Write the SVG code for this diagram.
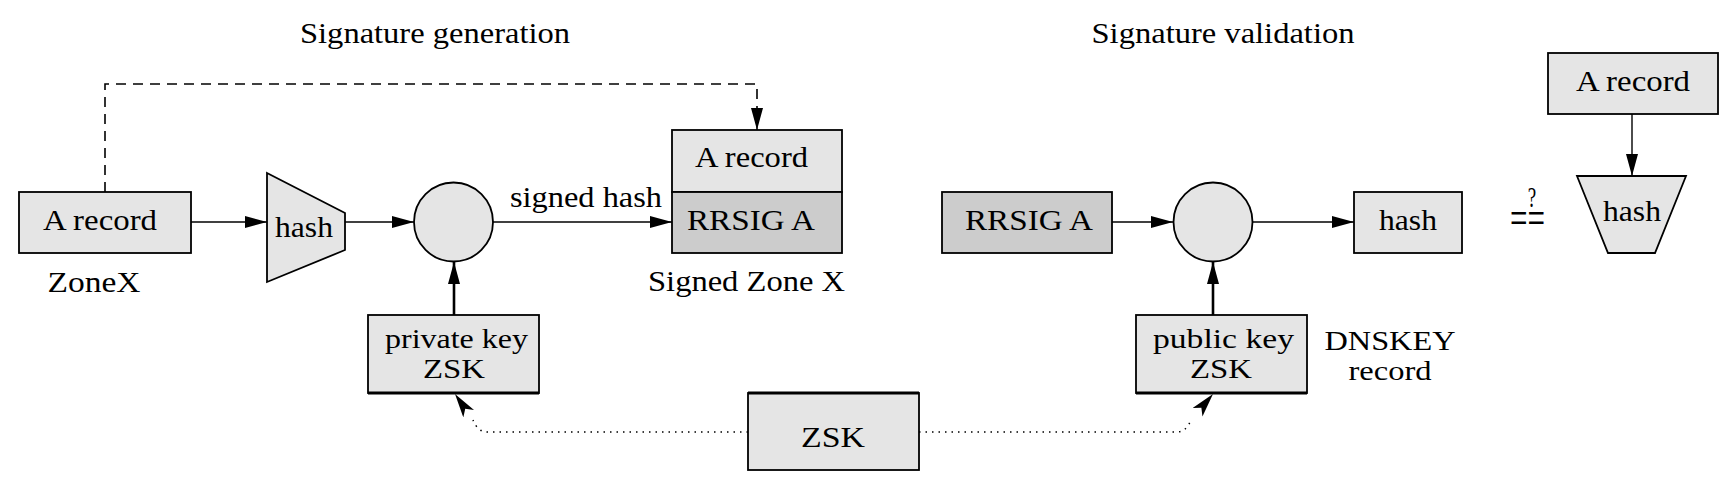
<svg xmlns="http://www.w3.org/2000/svg" width="1733" height="488" viewBox="0 0 1733 488">
<style>
text{font-family:"Liberation Serif","Times New Roman",serif;font-size:30px;fill:#000;text-anchor:middle}
.two{font-size:27px}
.box{fill:#e5e5e5;stroke:#000;stroke-width:1.8}
.dark{fill:#cccccc;stroke:#000;stroke-width:1.8}
.ln{fill:none;stroke:#000;stroke-width:1.4}
.thick{fill:none;stroke:#000;stroke-width:2.6}
.dash{fill:none;stroke:#000;stroke-width:1.6;stroke-dasharray:10 7}
.dot{fill:none;stroke:#000;stroke-width:1.5;stroke-dasharray:1.5 5}
</style>
<defs>
<marker id="ah" markerUnits="userSpaceOnUse" markerWidth="24" markerHeight="14" refX="22" refY="6" orient="auto">
<path d="M0,0 L22,6 L0,12 z" fill="#000"/>
</marker>
<marker id="st" markerUnits="userSpaceOnUse" markerWidth="26" markerHeight="14" refX="24" refY="6.5" orient="auto">
<path d="M0,0 L24,6.5 L0,13 L6,6.5 z" fill="#000"/>
</marker>
</defs>

<g id="titles">
<text x="435" y="43" textLength="270" lengthAdjust="spacingAndGlyphs">Signature generation</text>
<text x="1223" y="43" textLength="263" lengthAdjust="spacingAndGlyphs">Signature validation</text>
</g>

<g id="connectors">
<path class="dash" d="M105,192 V84 H757 V108"/>
<path class="ln" d="M757,110 V130" marker-end="url(#ah)"/>
<path class="ln" d="M191,222 H267" marker-end="url(#ah)"/>
<path class="ln" d="M345,222 H414" marker-end="url(#ah)"/>
<path class="ln" d="M493,222 H672" marker-end="url(#ah)"/>
<path class="thick" d="M454,315 V262" marker-end="url(#ah)"/>
<path class="ln" d="M1112,222 H1173" marker-end="url(#ah)"/>
<path class="ln" d="M1253,222 H1354" marker-end="url(#ah)"/>
<path class="thick" d="M1213,315 V262" marker-end="url(#ah)"/>
<path class="ln" d="M1632,114 V176" marker-end="url(#ah)"/>
<path class="dot" d="M748,432 H487 Q478,432 473,420"/>
<path class="ln" d="M473,420 L455,394" stroke-opacity="0" marker-end="url(#st)"/>
<path class="dot" d="M919,432 H1177 Q1186,432 1191,420"/>
<path class="ln" d="M1191,420 L1213,394" stroke-opacity="0" marker-end="url(#st)"/>
</g>

<g id="arecord">
<rect class="box" x="19" y="192" width="172" height="61"/>
<text x="100" y="230" textLength="114" lengthAdjust="spacingAndGlyphs">A record</text>
<text x="94" y="292" textLength="93" lengthAdjust="spacingAndGlyphs">ZoneX</text>
</g>

<g id="hash1">
<polygon class="box" points="267,173 345,213 345,250 267,282"/>
<text x="304" y="237" textLength="58" lengthAdjust="spacingAndGlyphs">hash</text>
</g>

<g id="sign">
<circle class="box" cx="453.5" cy="222" r="39.5"/>
<text x="586" y="207" textLength="152" lengthAdjust="spacingAndGlyphs">signed hash</text>
</g>

<g id="signedzone">
<rect class="box" x="672" y="130" width="170" height="62"/>
<rect class="dark" x="672" y="192" width="170" height="61"/>
<text x="751.5" y="167" textLength="113" lengthAdjust="spacingAndGlyphs">A record</text>
<text x="751" y="230" textLength="128" lengthAdjust="spacingAndGlyphs">RRSIG A</text>
<text x="746.5" y="291" textLength="197" lengthAdjust="spacingAndGlyphs">Signed Zone X</text>
</g>

<g id="privatekey">
<rect class="box" x="368" y="315" width="171" height="78"/>
<line x1="368" y1="393" x2="539" y2="393" stroke="#000" stroke-width="3"/>
<text class="two" x="456.5" y="348" textLength="143" lengthAdjust="spacingAndGlyphs">private key</text>
<text class="two" x="454" y="378" textLength="62" lengthAdjust="spacingAndGlyphs">ZSK</text>
</g>

<g id="zsk">
<rect class="box" x="748" y="393" width="171" height="77"/>
<line x1="748" y1="393" x2="919" y2="393" stroke="#000" stroke-width="3"/>
<text x="833" y="447" textLength="64" lengthAdjust="spacingAndGlyphs">ZSK</text>
</g>

<g id="rrsig">
<rect class="dark" x="942" y="192" width="170" height="61"/>
<text x="1029" y="230" textLength="128" lengthAdjust="spacingAndGlyphs">RRSIG A</text>
</g>

<g id="verify">
<circle class="box" cx="1213" cy="222" r="39.5"/>
</g>

<g id="hash2">
<rect class="box" x="1354" y="192" width="108" height="61"/>
<text x="1408" y="230" textLength="58" lengthAdjust="spacingAndGlyphs">hash</text>
</g>

<g id="publickey">
<rect class="box" x="1136" y="315" width="171" height="78"/>
<line x1="1136" y1="393" x2="1307" y2="393" stroke="#000" stroke-width="3"/>
<text class="two" x="1223.5" y="348" textLength="141" lengthAdjust="spacingAndGlyphs">public key</text>
<text class="two" x="1221" y="378" textLength="62" lengthAdjust="spacingAndGlyphs">ZSK</text>
<text class="two" x="1390" y="350" textLength="131" lengthAdjust="spacingAndGlyphs">DNSKEY</text>
<text class="two" x="1390" y="380" textLength="83" lengthAdjust="spacingAndGlyphs">record</text>
</g>

<g id="compare">
<text transform="translate(1527.5,234) scale(1,1.6)"><tspan x="0" y="0" textLength="35" lengthAdjust="spacingAndGlyphs">==</tspan><tspan x="4.5" y="-16.9" style="font-size:19px">?</tspan></text>
</g>

<g id="arecord2">
<rect class="box" x="1548" y="53" width="170" height="61"/>
<text x="1633" y="91" textLength="114" lengthAdjust="spacingAndGlyphs">A record</text>
</g>

<g id="hash3">
<polygon class="box" points="1577,176 1686,176 1655,253 1608,253"/>
<text x="1632" y="221" textLength="58" lengthAdjust="spacingAndGlyphs">hash</text>
</g>
</svg>
